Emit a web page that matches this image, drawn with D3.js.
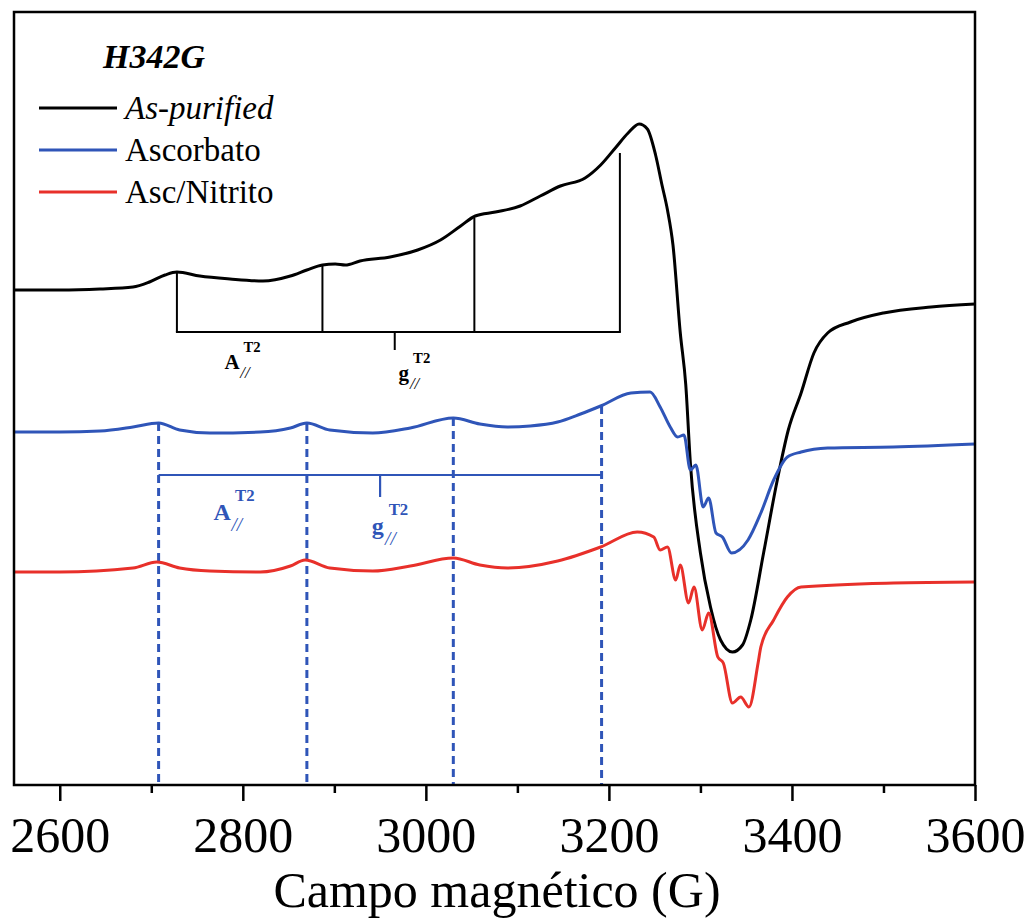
<!DOCTYPE html>
<html>
<head>
<meta charset="utf-8">
<script src="https://cdn.jsdelivr.net/npm/d3@7"></script>
</head>
<body style="margin:0">
<script>
// Axis ticks (G)
const majorTicks = [2600, 2800, 3000, 3200, 3400, 3600];
const minorTicks = [2700, 2900, 3100, 3300, 3500];

// Spectra: [field (G), intensity (a.u.)]
const asPurified = [
  [2550, 495], [2600, 495], [2644, 496], [2680, 498], [2698, 503], [2715, 510],
  [2728, 513], [2753, 509], [2786, 506], [2822, 504], [2852, 509], [2870, 515],
  [2887, 520], [2901, 521], [2912, 520], [2928, 524], [2961, 528], [2991, 535],
  [3016, 545], [3038, 559], [3054, 569], [3076, 573], [3103, 579], [3125, 589],
  [3147, 599], [3174, 607], [3191, 620], [3207, 637], [3221, 652], [3233, 661],
  [3242, 656], [3251, 630], [3258, 600], [3264, 575], [3270, 540], [3278, 452],
  [3284, 400], [3289, 322], [3300, 232], [3311, 178], [3322, 145], [3335, 133],
  [3346, 140], [3355, 165], [3369, 232], [3384, 305], [3396, 355], [3410, 392],
  [3424, 432], [3439, 452], [3464, 463], [3500, 472], [3552, 478], [3600, 481]
];

const ascorbato = [
  [2550, 353], [2600, 353], [2644, 354], [2680, 358], [2708, 362], [2731, 355],
  [2764, 352], [2819, 353], [2852, 357], [2870, 362], [2895, 355], [2942, 352],
  [2983, 357], [3030, 367], [3059, 361], [3089, 358], [3114, 359], [3144, 363],
  [3169, 371], [3191, 379], [3224, 392], [3245, 393], [3256, 378], [3267, 358],
  [3275, 348], [3282, 350], [3289, 315], [3295, 320], [3303, 278], [3309, 287],
  [3317, 252], [3324, 248], [3334, 232], [3352, 245], [3366, 272], [3380, 305],
  [3395, 328], [3410, 333], [3439, 337], [3511, 338], [3600, 341]
];

const ascNitrito = [
  [2550, 213], [2600, 213], [2680, 217], [2706, 223], [2731, 217], [2764, 214],
  [2819, 213], [2852, 219], [2868, 225], [2895, 217], [2942, 214], [2983, 219],
  [3030, 227], [3059, 220], [3089, 217], [3144, 224], [3191, 238], [3231, 253],
  [3249, 248], [3256, 235], [3264, 238], [3273, 205], [3278, 220], [3287, 182],
  [3293, 198], [3302, 155], [3309, 172], [3319, 128], [3325, 122], [3335, 82],
  [3344, 88], [3353, 78], [3363, 122], [3366, 138], [3380, 165], [3395, 188],
  [3410, 198], [3511, 202], [3600, 203]
];

// Hyperfine markers (G) and where they meet the traces (a.u.)
const blackMarks = [2728, 2887, 3053, 3212];
const blackMarkTops = [513, 520, 567, 632];
const blackBracket = 453;
const blackCenter = 2966;
const blueMarks = [2708, 2870, 3030, 3192];
const blueMarkTops = [362, 362, 367, 379];
const blueBracket = 310;
const blueCenter = 2950;

const seriesNames = ["As-purified", "Ascorbato", "Asc/Nitrito"];
const seriesColors = ["#000000", "#2f55b8", "#e8302a"];

const serif = '"Liberation Serif"';
const width = 1027;
const height = 922;
const plot = { left: 14, top: 12, right: 975, bottom: 785 };

const svg = d3
  .select("body")
  .append("svg")
  .attr("width", width)
  .attr("height", height);

const xScale = d3.scaleLinear().domain([2550, 3600]).range([plot.left, plot.right]);
const yScale = d3.scaleLinear().domain([0, 773]).range([plot.bottom, plot.top]);

const line = d3
  .line()
  .x((d) => xScale(d[0]))
  .y((d) => yScale(d[1]))
  .curve(d3.curveMonotoneX);

// Blue dashed markers (drawn under traces)
blueMarks.forEach((g, i) => {
  svg.append("line")
    .attr("x1", xScale(g)).attr("x2", xScale(g))
    .attr("y1", yScale(blueMarkTops[i])).attr("y2", plot.bottom)
    .attr("stroke", seriesColors[1])
    .attr("stroke-width", 3)
    .attr("stroke-dasharray", "8,5");
});

// Blue bracket
svg.append("line")
  .attr("x1", xScale(blueMarks[0])).attr("x2", xScale(blueMarks[3]))
  .attr("y1", yScale(blueBracket)).attr("y2", yScale(blueBracket))
  .attr("stroke", seriesColors[1]).attr("stroke-width", 2.2);
svg.append("line")
  .attr("x1", xScale(blueCenter)).attr("x2", xScale(blueCenter))
  .attr("y1", yScale(blueBracket)).attr("y2", yScale(blueBracket - 22))
  .attr("stroke", seriesColors[1]).attr("stroke-width", 2.2);

// Black bracket
blackMarks.forEach((g, i) => {
  svg.append("line")
    .attr("x1", xScale(g)).attr("x2", xScale(g))
    .attr("y1", yScale(blackMarkTops[i])).attr("y2", yScale(blackBracket))
    .attr("stroke", "#000").attr("stroke-width", 2);
});
svg.append("line")
  .attr("x1", xScale(blackMarks[0]) - 1).attr("x2", xScale(blackMarks[3]) + 1)
  .attr("y1", yScale(blackBracket)).attr("y2", yScale(blackBracket))
  .attr("stroke", "#000").attr("stroke-width", 2);
svg.append("line")
  .attr("x1", xScale(blackCenter)).attr("x2", xScale(blackCenter))
  .attr("y1", yScale(blackBracket)).attr("y2", yScale(blackBracket - 18))
  .attr("stroke", "#000").attr("stroke-width", 2);

// Traces
[asPurified, ascorbato, ascNitrito].forEach((data, i) => {
  svg.append("path")
    .datum(data)
    .attr("fill", "none")
    .attr("stroke", seriesColors[i])
    .attr("stroke-width", 3)
    .attr("stroke-linejoin", "round")
    .attr("d", line);
});

// Parameter labels: A//T2 and g//T2
function paramLabel(letter, g, i, color, size) {
  const s = size / 20;
  const x0 = xScale(g);
  const y0 = yScale(i);
  const w = letter === "A" ? 14 * s : 10 * s;
  svg.append("text").attr("x", x0).attr("y", y0).attr("fill", color)
    .style("font-family", serif)
    .attr("font-size", size).attr("font-weight", "bold").text(letter);
  svg.append("text").attr("x", x0 + w + 4 * s).attr("y", y0 - 16 * s).attr("fill", color)
    .style("font-family", serif)
    .attr("font-size", 14 * s).attr("font-weight", "bold").text("T2");
  svg.append("text").attr("x", x0 + w + 1 * s).attr("y", y0 + 9 * s).attr("fill", color)
    .style("font-family", serif)
    .attr("font-size", 16 * s).attr("font-style", "italic").text("//");
}
paramLabel("A", 2780, 416, "#000", 21);
paramLabel("g", 2970, 405, "#000", 21);
paramLabel("A", 2768, 265, seriesColors[1], 24);
paramLabel("g", 2941, 251, seriesColors[1], 24);

// Frame
svg.append("rect")
  .attr("x", plot.left).attr("y", plot.top)
  .attr("width", plot.right - plot.left).attr("height", plot.bottom - plot.top)
  .attr("fill", "none").attr("stroke", "#000").attr("stroke-width", 2.5);

// X axis
const xAxis = svg.append("g")
  .attr("transform", `translate(0, ${plot.bottom})`)
  .call(d3.axisBottom(xScale).tickValues(majorTicks).tickSize(16).tickPadding(15).tickFormat(d3.format("d")));
xAxis.attr("font-family", null).attr("font-size", null);
xAxis.select(".domain").remove();
xAxis.selectAll("line").attr("stroke", "#000").attr("stroke-width", 2.5);
xAxis.selectAll("text")
  .attr("fill", "#000")
  .attr("font-size", 50)
  .style("font-family", serif);

const minorAxis = svg.append("g")
  .attr("transform", `translate(0, ${plot.bottom})`)
  .call(d3.axisBottom(xScale).tickValues(minorTicks).tickSize(8).tickFormat(""));
minorAxis.select(".domain").remove();
minorAxis.selectAll("line").attr("stroke", "#000").attr("stroke-width", 2.5);

svg.append("text")
  .attr("x", 497).attr("y", 907)
  .attr("text-anchor", "middle")
  .attr("font-size", 50)
  .style("font-family", serif)
  .text("Campo magnético (G)");

// Legend
svg.append("text")
  .attr("x", 103).attr("y", 68)
  .attr("font-size", 34).attr("font-weight", "bold").attr("font-style", "italic")
  .style("font-family", serif)
  .text("H342G");

seriesNames.forEach((name, i) => {
  const y = 108 + i * 42;
  svg.append("line")
    .attr("x1", 39).attr("x2", 117).attr("y1", y).attr("y2", y)
    .attr("stroke", seriesColors[i]).attr("stroke-width", 3);
  svg.append("text")
    .attr("x", 125).attr("y", y + 11)
    .attr("font-size", 33)
    .attr("font-style", i === 0 ? "italic" : "normal")
    .style("font-family", serif)
    .text(name);
});
</script>
</body>
</html>
